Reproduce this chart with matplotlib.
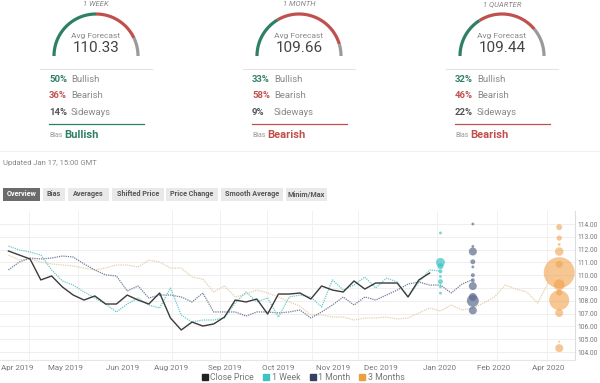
import numpy as np
import matplotlib.pyplot as plt
from matplotlib.lines import Line2D
from matplotlib.patches import Rectangle

plt.rcParams['font.family'] = ['Roboto', 'DejaVu Sans']

# poll summary
horizons = ['1 WEEK', '1 MONTH', '1 QUARTER']
avg_forecast = [110.33, 109.66, 109.44]
bullish = [50, 33, 32]
bearish = [36, 58, 46]
sideways = [14, 9, 22]
bias = ['Bullish', 'Bearish', 'Bearish']

# weekly series (index = week)
close = [111.89, 111.58, 111.27, 109.63, 109.94, 109.08, 108.45, 108.06, 108.38, 107.75,
         107.75, 108.45, 108.06, 107.75, 108.61, 106.66, 105.72, 106.34, 106.03, 106.19,
         106.73, 108.06, 107.91, 108.14, 106.97, 108.53, 108.53, 108.61, 108.14, 109.16,
         108.84, 108.69, 109.55, 108.92, 109.39, 109.39, 109.39, 108.30, 109.63, 110.17]
week1 = [112.28, 111.97, 111.81, 111.58, 110.41, 109.55, 109.23, 108.69, 108.22, 107.75,
         107.13, 107.75, 108.22, 107.67, 107.44, 109.00, 106.89, 106.34, 106.50, 106.50,
         106.66, 107.83, 108.69, 107.91, 108.22, 106.73, 108.30, 108.45, 108.30, 107.52,
         109.63, 108.84, 109.23, 109.86, 109.00, 109.78, 109.47, 108.30, 109.47, 110.41,
         110.33]
month1 = [110.41, 111.03, 111.34, 111.27, 111.34, 111.50, 111.42, 110.88, 110.41, 110.02,
          109.94, 108.77, 109.16, 108.22, 108.45, 108.45, 108.30, 107.91, 108.61, 107.13,
          107.13, 107.13, 106.81, 107.13, 107.13, 107.05, 107.13, 107.28, 106.66, 107.13,
          107.67, 108.30, 107.67, 108.30, 108.06, 108.45, 108.84, 109.31, 109.47, 109.23,
          109.23, 108.61, 109.31, 109.66]
month3 = [111.58, 111.19, 111.27, 111.03, 110.88, 110.80, 110.72, 110.56, 110.41, 110.56,
          110.80, 110.80, 110.64, 111.19, 111.03, 110.56, 110.56, 109.86, 109.70, 108.69,
          109.16, 108.30, 108.53, 108.84, 108.61, 108.30, 107.91, 107.59, 106.89, 106.89,
          106.73, 106.73, 106.50, 106.66, 106.66, 106.73, 106.58, 106.66, 107.05, 107.44,
          107.20, 107.67, 107.28, 107.44, 107.83, 108.30, 109.23, 108.92, 108.69, 107.83,
          109.44]

# individual forecasts (price, votes)
week_pts = [113.3, 111.0, 110.7, 110.3, 109.9, 109.5, 109.1, 108.6]
week_votes = [2, 20, 9, 4, 2, 6, 2, 2]
month_pts = [114.0, 112.25, 111.85, 111.05, 110.65, 110.0, 109.6, 109.15, 108.3, 108.0, 107.25]
month_votes = [2, 2, 16, 6, 2, 4, 4, 16, 16, 36, 16]
quarter_pts = [113.75, 112.9, 112.4, 111.85, 110.85, 110.2, 109.25, 108.65, 108.05, 107.05, 104.8, 104.3]
quarter_votes = [9, 7, 2, 18, 12, 240, 30, 9, 100, 16, 1, 16]
target_week = [40, 43, 51]

month_labels = ['Apr 2019', 'May 2019', 'Jun 2019', 'Aug 2019', 'Sep 2019', 'Oct 2019',
                'Nov 2019', 'Dec 2019', 'Jan 2020', 'Feb 2020', 'Apr 2020']

GREEN = '#2f7f66'
RED = '#c0504d'
GRAY = '#9a9a9a'

fig = plt.figure(figsize=(6, 3.83), dpi=100)

# ---- chart ----
ax = fig.add_axes([0, 23.3 / 383, 575 / 600, 148.5 / 383])
ax.plot(range(len(month3)), month3, color='#e6cfb0', lw=0.9, ls=(0, (1, 0.8)), zorder=2)
ax.plot(range(len(month1)), month1, color='#707d98', lw=0.9, ls=(0, (1, 0.8)), zorder=3)
ax.plot(range(len(week1)), week1, color='#6cc9c9', lw=0.9, ls=(0, (1, 0.8)), zorder=3)
ax.plot(range(len(close)), close, color='#3a3a3a', lw=1.0, zorder=4)

k = 2.07
ax.scatter([target_week[0]] * len(week_pts), week_pts, s=np.array(week_votes) * k,
           color='#3cc3c3', alpha=0.7, edgecolors='none', zorder=5)
ax.scatter([target_week[1]] * len(month_pts), month_pts, s=np.array(month_votes) * k,
           color='#5b6b8f', alpha=0.7, edgecolors='none', zorder=5)
ax.scatter([target_week[2]] * len(quarter_pts), quarter_pts, s=np.array(quarter_votes) * k,
           color='#f0a04c', alpha=0.6, edgecolors='none', zorder=5)

ax.set_xlim(-0.78, 52.46)
ax.set_ylim(103.4, 115.0)
ax.set_xticks([-0.7, 5.24, 10.6, 15.06, 20.06, 24.96, 30.06, 34.5, 39.87, 44.96, 49.96])
ax.set_xticklabels(month_labels)
ax.get_xticklabels()[0].set_ha('left')
ax.set_xticks([1.91, 6.44, 10.6, 15.15, 19.59, 23.94, 28.11, 32.37, 39.68, 45.24, 49.87], minor=True)
ax.set_yticks(range(104, 115))
ax.set_yticklabels(['%.2f' % v for v in range(104, 115)])
ax.yaxis.tick_right()
ax.tick_params(axis='both', which='both', length=0, labelcolor='#777777')
ax.tick_params(axis='x', pad=4, labelsize=5.8)
ax.tick_params(axis='y', pad=2, labelsize=4.8)
ax.grid(axis='y', color='#eeeeee', lw=0.7)
ax.grid(axis='x', which='minor', color='#f1f1f1', lw=0.7)
for s in ['top', 'left']:
    ax.spines[s].set_visible(False)
ax.spines['right'].set_color('#dddddd')
ax.spines['bottom'].set_color('#e6e6e6')
ax.set_axisbelow(True)

handles = [Line2D([], [], marker='s', ls='none', color=c, markersize=5)
           for c in ['#222222', '#3cc3c3', '#33425e', '#e8a040']]
fig.legend(handles, ['Close Price', '1 Week', '1 Month', '3 Months'], loc='center',
           bbox_to_anchor=(0.505, 1 - 378 / 383), ncol=4, frameon=False, fontsize=6.3,
           labelcolor='#777777', handletextpad=0.2, columnspacing=1.0, handlelength=0.8,
           borderpad=0)

# ---- top panel (pixel coordinates) ----
top = fig.add_axes([0, 0, 1, 1])
top.set_xlim(0, 600)
top.set_ylim(383, 0)
top.axis('off')

centers = [96, 299, 502]
R = 42
cy = 56
for n, cx in enumerate(centers):
    start = 180.0
    for frac, col in zip([bullish[n], bearish[n], sideways[n]], [GREEN, RED, GRAY]):
        end = start - 180.0 * frac / 100.0
        t = np.radians(np.linspace(start, end, 60))
        top.plot(cx + R * np.cos(t), cy - R * np.sin(t), color=col, lw=2.3,
                 solid_capstyle='butt')
        start = end
    top.text(cx, 4, horizons[n], ha='center', va='center', fontsize=5.5, style='italic',
             color='#888888')
    top.text(cx, 36, 'Avg Forecast', ha='center', va='center', fontsize=6, color='#888888')
    top.text(cx, 48.5, '%.2f' % avg_forecast[n], ha='center', va='center', fontsize=11,
             color='#444444')
    top.plot([cx - 56, cx + 56], [69, 69], color='#e4e4e4', lw=0.8)
    lx = cx - 47
    rows = [(bullish[n], 'Bullish', GREEN), (bearish[n], 'Bearish', RED),
            (sideways[n], 'Sideways', '#555555')]
    for j, (p, name, col) in enumerate(rows):
        yy = 79 + j * 16.7
        top.text(lx, yy, '%d%%' % p, ha='left', va='center', fontsize=6.8, color=col,
                 fontweight='bold')
        top.text(lx + 22, yy, name, ha='left', va='center', fontsize=6.8, color='#888888')
    bcol = GREEN if bias[n] == 'Bullish' else RED
    top.plot([lx, lx + 95], [124, 124], color=bcol, lw=0.9)
    top.text(lx, 135.5, 'Bias', ha='left', va='center', fontsize=5, color='#999999')
    top.text(lx + 15, 135, bias[n], ha='left', va='center', fontsize=8, color=bcol,
             fontweight='bold')

top.plot([0, 600], [151, 151], color='#f0f0f0', lw=0.7)
top.text(3, 163, 'Updated Jan 17, 15:00 GMT', ha='left', va='center', fontsize=5.5,
         color='#888888')

buttons = ['Overview', 'Bias', 'Averages', 'Shifted Price', 'Price Change',
           'Smooth Average', 'Minim/Max']
bx = [(3, 40), (43, 65), (68, 109), (112, 164), (166, 218), (221, 283), (286, 327)]
for j, (name, (x0, x1)) in enumerate(zip(buttons, bx)):
    fc = '#6b6b6b' if j == 0 else '#e9e9e9'
    tc = 'white' if j == 0 else '#555555'
    top.add_patch(Rectangle((x0, 188), x1 - x0, 12.5, facecolor=fc, edgecolor='none'))
    top.text((x0 + x1) / 2, 194.3, name, ha='center', va='center', fontsize=5.2, color=tc,
             fontweight='bold')

fig.savefig('out.png', dpi=100)
